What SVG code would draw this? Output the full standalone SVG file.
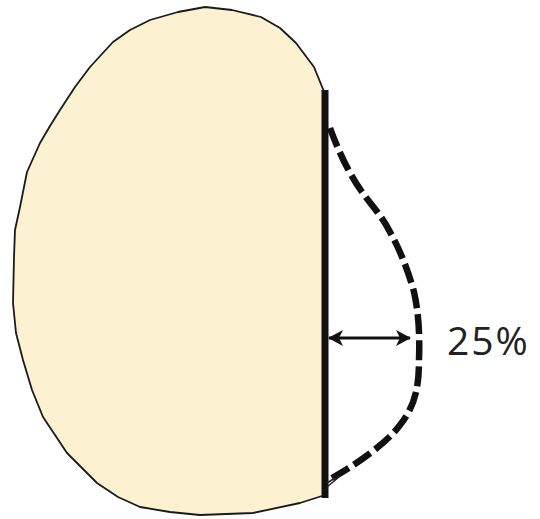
<svg xmlns="http://www.w3.org/2000/svg" width="540" height="519" viewBox="0 0 540 519">
<style>
.blob{fill:#FCF1D0;stroke:#1a1a1a;stroke-width:1.8;stroke-linejoin:round}
.cut{stroke:#111;stroke-width:7;fill:none}
.dash{stroke:#111;stroke-width:6.5;fill:none;stroke-dasharray:20 6}
.thin{stroke:#222;stroke-width:1.5;fill:none}
.arr{stroke:#111;stroke-width:3.2;fill:none}
.lbl{font-family:"Open Sans","Liberation Sans",sans-serif;font-size:39px;letter-spacing:2px;fill:#222}
</style>
<defs>
<marker id="ah" viewBox="0 0 15 16" refX="14" refY="8" markerWidth="15" markerHeight="16" orient="auto-start-reverse" markerUnits="userSpaceOnUse">
<path d="M0,0 L15,8 L0,16 L4,8 z" fill="#111"/>
</marker>
</defs>
<g id="tissue">
<path class="blob" d="M325,94 L314,67 L296,43 L280,28 L261,17 L232,10 L205,7 L178,12 L150,20 L130,30 L113,42 L90,67 L75,87 L60,110 L50,126 L40,143 L27,172 L20,207 L15,230 L14,257 L13,303 L16,333 L23,360 L32,390 L43,417 L67,453 L97,483 L118,497 L140,507 L170,512 L200,515 L253,513 L300,503 L325,495 Z"/>
</g>
<g id="resection">
<line class="cut" x1="325" y1="90" x2="325" y2="498"/>
<path class="dash" d="M330,128 C338,150 348,172 362,192 C372,206 382,216 390,232 C400,250 408,270 414,292 C418,310 420,330 419,360 C419,385 416,405 400,425 C385,445 355,465 332,478"/>
<path class="thin" d="M327,487 L339,477 M327,483 L335,478"/>
</g>
<g id="connectors">
<line class="arr" x1="329" y1="338" x2="410" y2="338" marker-start="url(#ah)" marker-end="url(#ah)"/>
</g>
<g id="label">
<text class="lbl" x="447" y="355">25%</text>
</g>
</svg>
